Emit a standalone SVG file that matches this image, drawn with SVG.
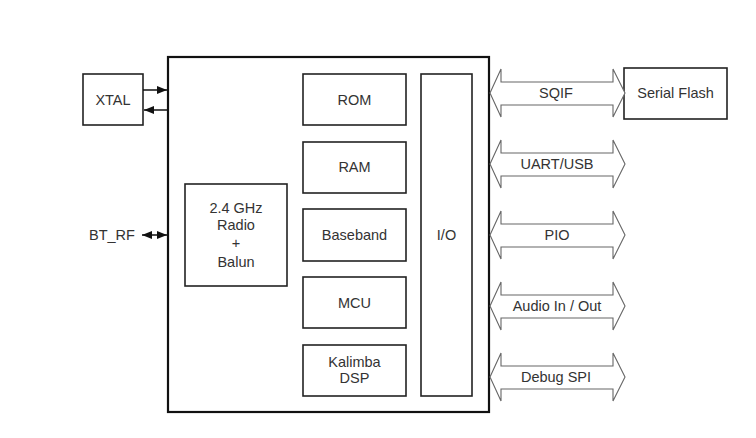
<svg xmlns="http://www.w3.org/2000/svg" width="756" height="438" viewBox="0 0 756 438">
<style>
.box{fill:#fff;stroke:#222;stroke-width:1.6}
.main{fill:#fff;stroke:#111;stroke-width:2.2}
.t{font-family:"Liberation Sans",Arial,sans-serif;font-size:14.5px;fill:#333;text-anchor:middle}
.ln{stroke:#111;stroke-width:1.5;fill:none}
.barrow{fill:#fff;stroke:#666;stroke-width:1.1}
</style>
<defs>
<marker id="ah" markerUnits="userSpaceOnUse" markerWidth="10" markerHeight="10" viewBox="0 0 10 10" refX="10" refY="5" orient="auto-start-reverse">
<path d="M0,1 L10,5 L0,9 Z" fill="#111"/>
</marker>
</defs>
<rect width="756" height="438" fill="#fff"/>
<g id="chip"><rect class="main" x="168" y="57" width="321" height="355"/></g>
<g id="xtal"><rect class="box" x="83" y="74" width="60" height="51"/><text class="t" x="113" y="105">XTAL</text></g>
<g id="radio"><rect class="box" x="185" y="184" width="102" height="102"/>
<text class="t" x="236" y="213">2.4 GHz</text><text class="t" x="236" y="230">Radio</text><text class="t" x="236" y="248">+</text><text class="t" x="236" y="267">Balun</text></g>
<g id="rom"><rect class="box" x="303" y="74" width="103" height="51"/><text class="t" x="354.5" y="105">ROM</text></g>
<g id="ram"><rect class="box" x="303" y="142" width="103" height="51"/><text class="t" x="354.5" y="172">RAM</text></g>
<g id="baseband"><rect class="box" x="303" y="209" width="103" height="52"/><text class="t" x="354.5" y="240">Baseband</text></g>
<g id="mcu"><rect class="box" x="303" y="277" width="103" height="51"/><text class="t" x="354.5" y="308">MCU</text></g>
<g id="kalimba"><rect class="box" x="303" y="345" width="103" height="51"/><text class="t" x="354.5" y="367">Kalimba</text><text class="t" x="354.5" y="383">DSP</text></g>
<g id="io"><rect class="box" x="421" y="74" width="51" height="322"/><text class="t" x="446.5" y="240">I/O</text></g>
<g id="serialflash"><rect class="box" x="624" y="68" width="103" height="51"/><text class="t" x="675.5" y="98">Serial Flash</text></g>
<g id="bt_rf"><text class="t" x="112" y="240">BT_RF</text></g>
<g id="connectors">
<line class="ln" x1="143" y1="90" x2="167" y2="90" marker-end="url(#ah)"/>
<line class="ln" x1="167" y1="110" x2="144" y2="110" marker-end="url(#ah)"/>
<line class="ln" x1="142" y1="235" x2="167" y2="235" marker-start="url(#ah)" marker-end="url(#ah)"/>
<g id="sqif"><path class="barrow" d="M490,93 L501,69 L501,82 L613,82 L613,69 L625,93 L613,117 L613,105 L501,105 L501,117 Z"/><text class="t" x="556" y="98">SQIF</text></g>
<g id="uart"><path class="barrow" d="M490,164 L501,140 L501,153 L613,153 L613,140 L625,164 L613,188 L613,176 L501,176 L501,188 Z"/><text class="t" x="557" y="169">UART/USB</text></g>
<g id="pio"><path class="barrow" d="M490,235 L501,211 L501,224 L613,224 L613,211 L625,235 L613,259 L613,247 L501,247 L501,259 Z"/><text class="t" x="557" y="240">PIO</text></g>
<g id="audio"><path class="barrow" d="M490,306 L501,282 L501,295 L613,295 L613,282 L625,306 L613,330 L613,318 L501,318 L501,330 Z"/><text class="t" x="557" y="311">Audio In / Out</text></g>
<g id="debug"><path class="barrow" d="M490,377 L501,353 L501,366 L613,366 L613,353 L625,377 L613,401 L613,389 L501,389 L501,401 Z"/><text class="t" x="556" y="382">Debug SPI</text></g>
</g>
</svg>
